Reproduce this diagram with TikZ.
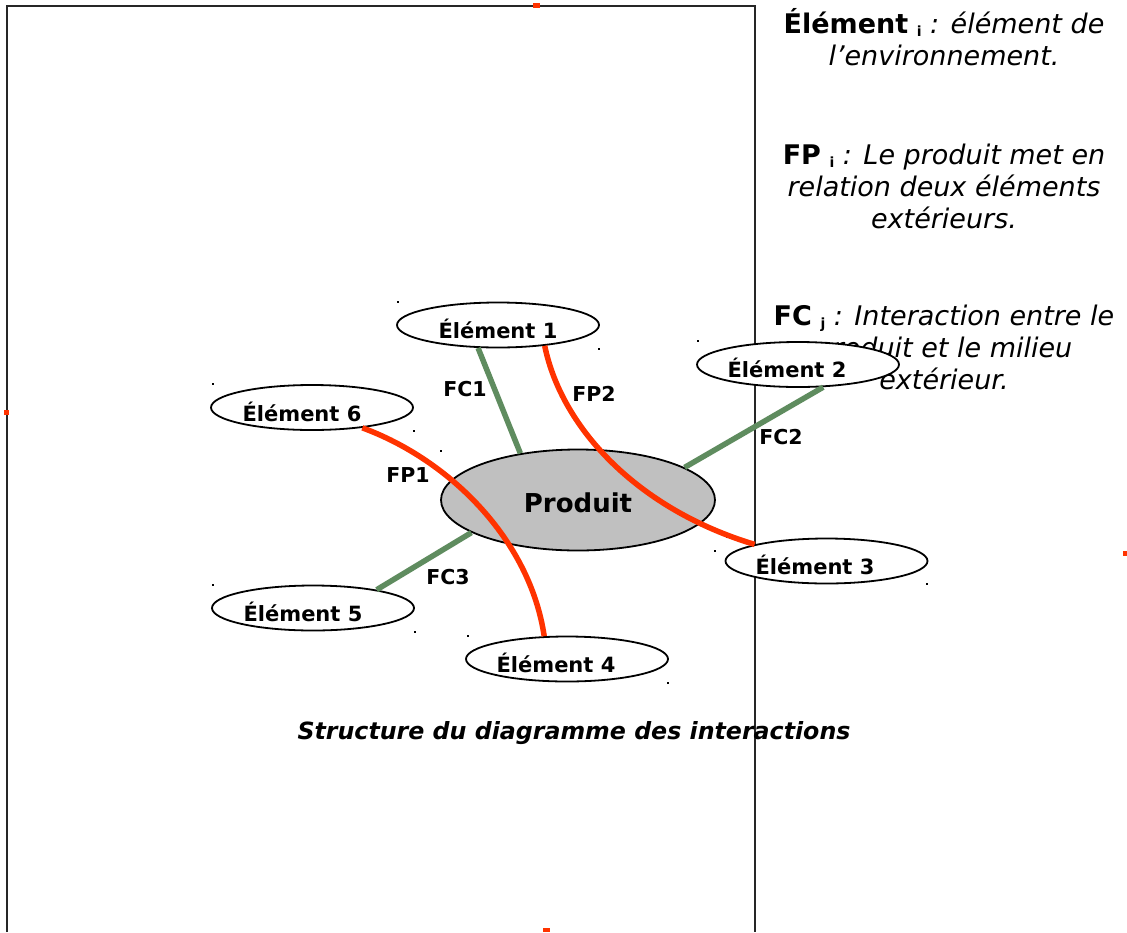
\documentclass[tikz,border=0pt]{standalone}
\usepackage{fontspec}
\setmainfont{DejaVu Sans}
\usetikzlibrary{shapes.geometric}
\definecolor{fpred}{HTML}{FF3300}
\definecolor{fcgreen}{HTML}{5F8C5F}
\definecolor{prodgray}{HTML}{C0C0C0}
\newcommand\mysub[1]{\raisebox{-3pt}{\fontsize{14}{14}\selectfont\bfseries #1}}
\begin{document}
\begin{tikzpicture}[x=1pt,y=-1pt,
  elt/.style={ellipse,draw=black,fill=white,line width=1.8pt,minimum width=202pt,minimum height=45pt,inner sep=0pt},
  prod/.style={ellipse,draw=black,fill=prodgray,line width=1.8pt,minimum width=274pt,minimum height=101pt,inner sep=0pt},
  elttxt/.style={font=\fontsize{21}{25}\selectfont\bfseries,inner sep=0pt},
  lbl/.style={font=\fontsize{20.5}{24}\selectfont\bfseries,inner sep=0pt},
  fc/.style={draw=fcgreen,line width=5.5pt},
  fp/.style={draw=fpred,line width=5.5pt},
  legend/.style={font=\fontsize{27}{32}\selectfont,inner sep=0pt,anchor=base},
  frameline/.style={draw=black!85,line width=1.5pt},
  redmark/.style={fill=fpred}
]
\useasboundingbox (0,0) rectangle (1127,932);
% frame
\coordinate (fbl) at (7,932);
\coordinate (ftl) at (7,6);
\coordinate (ftr) at (755,6);
\coordinate (fbr) at (755,932);
\draw[frameline] (fbl) -- (ftl) -- (ftr) -- (fbr);
% selection markers
\fill[redmark] (533,3) rectangle (540,8);
\fill[redmark] (4,410) rectangle (9,415);
\fill[redmark] (1123,551) rectangle (1127,556);
\fill[redmark] (543,928) rectangle (550,932);
\foreach \px/\py in {398/302,599/349,213/384,414/431,441/451,698/341,715/551,727/537,927/584,213/585,415/632,468/636,668/683}
  \fill[black] (\px-1,\py-1) rectangle (\px+1,\py+1);
% legend
\node[legend] (l1) at (944,33) {\textbf{Élément} \mysub{i} \textit{: élément de}};
\node[legend] (l2) at (944,65) {\textit{l’environnement.}};
\node[legend] (l3) at (944,164) {\textbf{FP} \mysub{i} \textit{: Le produit met en}};
\node[legend] (l4) at (944,196) {\textit{relation deux éléments}};
\node[legend] (l5) at (944,228) {\textit{extérieurs.}};
\node[legend] (l6) at (944,325) {\textbf{FC} \mysub{j} \textit{: Interaction entre le}};
\node[legend] (l7) at (944,357) {\textit{produit et le milieu}};
\node[legend] (l8) at (944,389) {\textit{extérieur.}};
% product
\node[prod] (p) at (578,500) {};
\node[font=\fontsize{26}{30}\selectfont\bfseries,inner sep=0pt] (pt) at (578,503) {Produit};
% elements
\node[elt] (e1) at (498,325) {};
\node[elt] (e2) at (798,364.5) {};
\node[elt] (e3) at (826.5,561) {};
\node[elt] (e4) at (567,659) {};
\node[elt] (e5) at (313,608) {};
\node[elt] (e6) at (312,407.5) {};
% connectors
\draw[fc] (e1.-131) -- (p.141);
\draw[fc] (e2.-42) -- (p.17);
\draw[fc] (e5.16) -- (p.-163);
\draw[fp] (e6.-22) .. controls (450,460) and (530,540) .. (e4.135);
\draw[fp] (e1.-24) .. controls (562,430) and (640,510) .. (e3.167.6);
% element texts
\node[elttxt] (t1) at (498,329) {Élément 1};
\node[elttxt] (t2) at (787,368) {Élément 2};
\node[elttxt] (t3) at (815,565) {Élément 3};
\node[elttxt] (t4) at (556,663) {Élément 4};
\node[elttxt] (t5) at (303,612) {Élément 5};
\node[elttxt] (t6) at (302,412) {Élément 6};
% labels
\node[lbl] (c1) at (465,389) {FC1};
\node[lbl] (c2) at (781,437) {FC2};
\node[lbl] (c3) at (448,577) {FC3};
\node[lbl] (f1) at (408,475) {FP1};
\node[lbl] (f2) at (594,394) {FP2};
% caption
\node[font=\fontsize{23.7}{28}\selectfont\bfseries\itshape,inner sep=0pt,anchor=base] (cap) at (574,739) {Structure du diagramme des interactions};
\end{tikzpicture}
\end{document}
